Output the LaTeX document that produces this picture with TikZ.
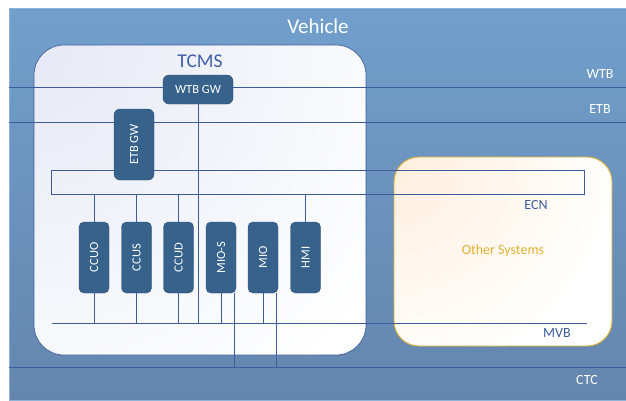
\documentclass[tikz,border=0pt]{standalone}
\usepackage{fontspec}
\setmainfont{Carlito}
\usepackage{graphicx}
\definecolor{vehtop}{HTML}{719FCC}
\definecolor{vehbot}{HTML}{6486AE}
\definecolor{buscol}{HTML}{3D5C9E}
\definecolor{modfill}{HTML}{36628B}
\definecolor{moddraw}{HTML}{2C5078}
\definecolor{tcmsblue}{HTML}{3F5FAA}
\definecolor{gold}{HTML}{E4B02E}
\definecolor{peach}{HTML}{FFEEDC}
\definecolor{lav}{HTML}{E6E9F5}
\tikzset{
  bus/.style={draw=buscol, line width=0.9pt},
  module/.style={draw=moddraw, fill=modfill, rounded corners=5pt, minimum width=30pt, minimum height=71pt, inner sep=0pt, text=white, font=\fontsize{12.5}{12.5}\selectfont},
  gw/.style={draw=moddraw, fill=modfill, rounded corners=6pt, inner sep=0pt, text=white, font=\fontsize{12.5}{12.5}\selectfont},
  buslabel/.style={font=\fontsize{14}{14}\selectfont, inner sep=0pt},
}
\begin{document}
\begin{tikzpicture}[x=1pt,y=-1pt]
\useasboundingbox (0,0) rectangle (626,400);
\fill[white] (0,0) rectangle (626,400);
% vehicle
\shade[top color=vehtop, bottom color=vehbot, draw=vehtop!80!white, line width=0.5pt] (9,8) rectangle (626,400);
\node[text=white, font=\fontsize{21}{21}\selectfont, inner sep=0pt] (veh) at (318,26) {Vehicle};
% TCMS box
\begin{scope}
  \clip[rounded corners=30pt] (34,45) rectangle (366,355);
  \fill[white] (34,45) rectangle (366,355);
  \shade[inner color=lav, outer color=white] (34,45) circle (420pt);
\end{scope}
\draw[draw=buscol, line width=0.7pt, rounded corners=30pt] (34,45) rectangle (366,355);
\node[text=tcmsblue, font=\fontsize{19.5}{19.5}\selectfont, inner sep=0pt] (tcms) at (200,61) {TCMS};
% Other systems box
\begin{scope}
  \clip[rounded corners=25pt] (394,157) rectangle (612,346);
  \fill[white] (394,157) rectangle (612,346);
  \shade[inner color=peach, outer color=white] (394,157) circle (220pt);
\end{scope}
\draw[draw=gold, line width=0.9pt, rounded corners=25pt] (394,157) rectangle (612,346);
\node[text=gold, font=\fontsize{14}{14}\selectfont, inner sep=0pt] (other) at (503,251) {Other Systems};
% bus end coordinates
\coordinate (wtbL) at (9,87);   \coordinate (wtbR) at (626,87);
\coordinate (etbL) at (9,122);  \coordinate (etbR) at (626,122);
\coordinate (ecnA) at (51,170); \coordinate (ecnB) at (584,194);
\coordinate (mvbL) at (52,323); \coordinate (mvbR) at (587,323);
\coordinate (ctcL) at (9,367);  \coordinate (ctcR) at (626,367);
% buses
\draw[bus] (wtbL) -- (wtbR);
\draw[bus] (etbL) -- (etbR);
\draw[bus] (ecnA) rectangle (ecnB);
\draw[bus] (mvbL) -- (mvbR);
\draw[bus] (ctcL) -- (ctcR);
% bus labels
\node[buslabel, text=white] (wtblab) at (600,74) {WTB};
\node[buslabel, text=white] (etblab) at (600,109) {ETB};
\node[buslabel, text=buscol] (ecnlab) at (536,205) {ECN};
\node[buslabel, text=buscol] (mvblab) at (557,333) {MVB};
\node[buslabel, text=white] (ctclab) at (587,380) {CTC};
% modules
\node[module] (ccuo) at (94,257.5) {\rotatebox{90}{CCUO}};
\node[module] (ccus) at (136.5,257.5) {\rotatebox{90}{CCUS}};
\node[module] (ccud) at (178.5,257.5) {\rotatebox{90}{CCUD}};
\node[module] (mios) at (221,257.5) {\rotatebox{90}{MIO-S}};
\node[module] (mio) at (263,257.5) {\rotatebox{90}{MIO}};
\node[module] (hmi) at (305.5,257.5) {\rotatebox{90}{HMI}};
% gateways
\node[gw, minimum width=70pt, minimum height=29pt] (wtbgw) at (198,89.5) {WTB GW};
\node[gw, minimum width=40pt, minimum height=71pt] (etbgw) at (134,144.5) {\rotatebox{90}{ETB GW}};
% connectors
\draw[bus] (wtbgw.south) -- (wtbgw.south |- mvbL);
\foreach \m in {ccuo,ccus,ccud,hmi}{
  \draw[bus] (\m.north) -- (\m.north |- ecnB);
}
\foreach \m in {ccuo,ccus,ccud,mios,mio}{
  \draw[bus] (\m.south) -- (\m.south |- mvbL);
}
\draw[bus] ([xshift=13pt]mios.south) -- ([xshift=13pt]mios.south |- ctcL);
\draw[bus] ([xshift=13pt]mio.south) -- ([xshift=13pt]mio.south |- ctcL);
\end{tikzpicture}
\end{document}
